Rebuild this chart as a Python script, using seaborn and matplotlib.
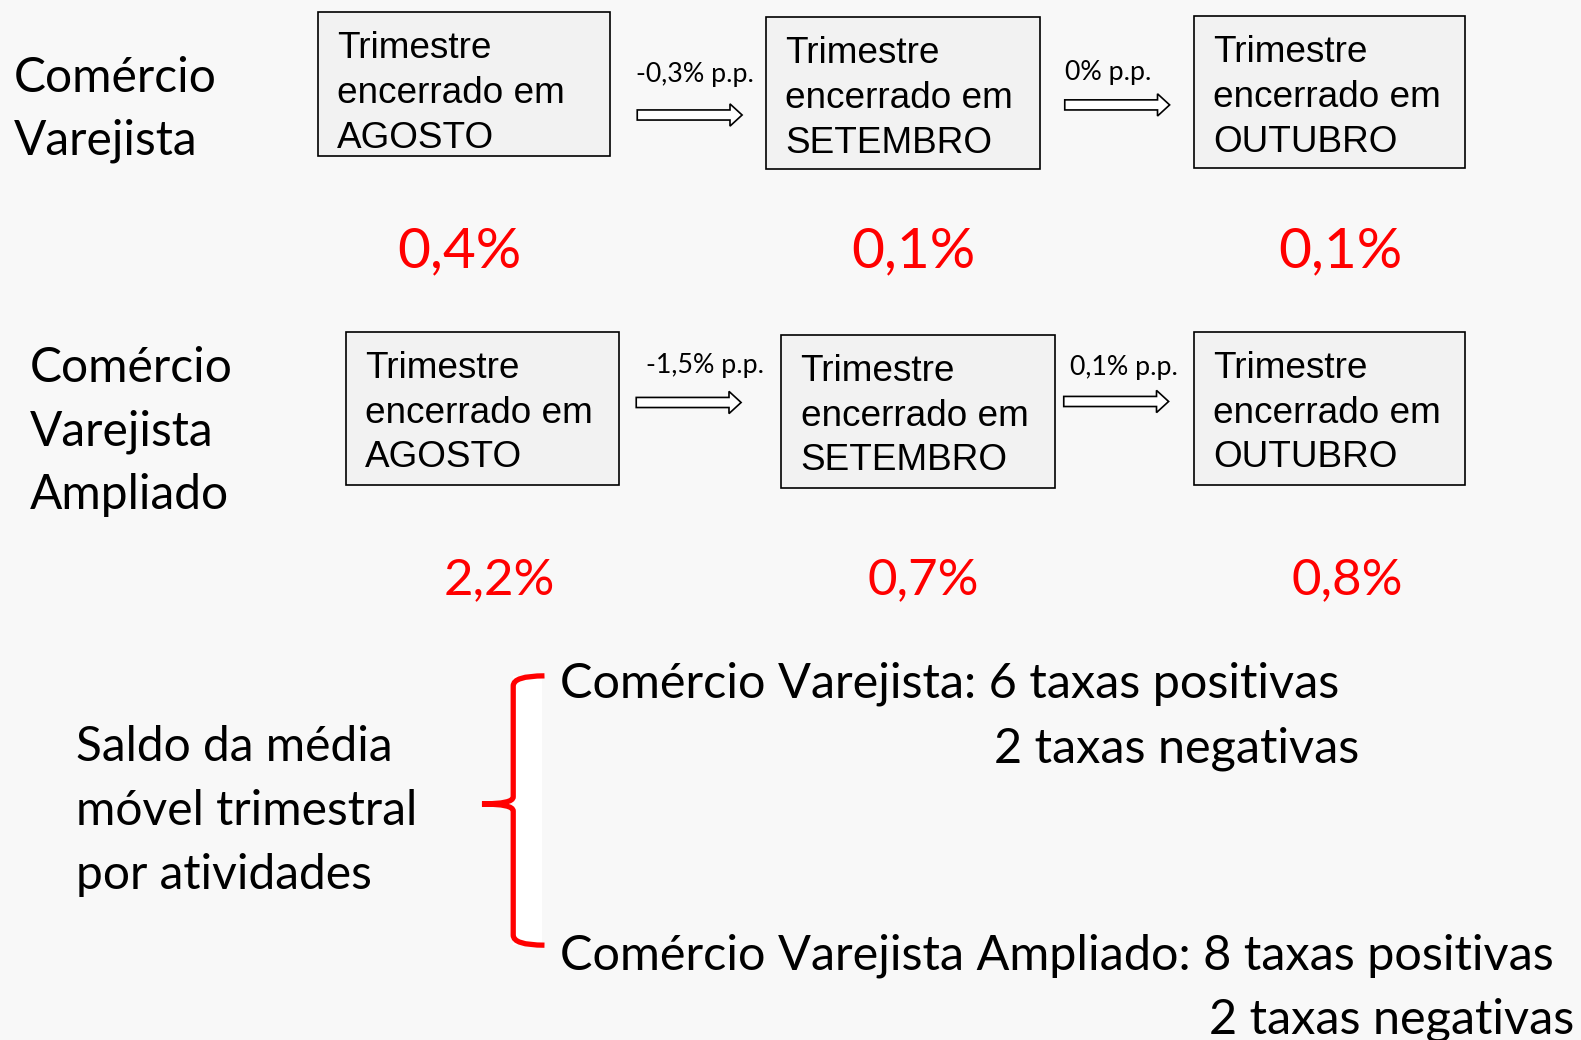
import matplotlib
matplotlib.use('Agg')
import matplotlib.pyplot as plt
import matplotlib.patches as mpatches
from matplotlib.path import Path
import seaborn as sns

# dados
meses = ['AGOSTO', 'SETEMBRO', 'OUTUBRO']
varejo = [0.4, 0.1, 0.1]
ampliado = [2.2, 0.7, 0.8]
varejo_pp = [-0.3, 0.0]
ampliado_pp = [-1.5, 0.1]
atividades = ['Comércio Varejista', 'Comércio Varejista Ampliado']
positivas = [6, 8]
negativas = [2, 2]

sns.set_theme(style='white', rc={'figure.facecolor': '#f8f8f8', 'axes.facecolor': '#f8f8f8',
                                 'text.color': 'black'})
plt.rcParams['font.family'] = ['Lato', 'DejaVu Sans']

BOX_FONT = 'Liberation Sans'
RED = '#ff0000'
DY = 3  # ajuste vertical do texto


def pct(v):
    return f'{v:.1f}'.replace('.', ',') + '%'


def pp(v):
    return f'{v:g}'.replace('.', ',') + '% p.p.'


fig = plt.figure(figsize=(15.81, 10.40), dpi=100)
ax = fig.add_axes([0, 0, 1, 1])
# coordenadas em pixels da imagem de referência
ax.set_xlim(0, 1568)
ax.set_ylim(1031, 0)
ax.axis('off')
renderer = fig.canvas.get_renderer()


def size_for(text, width, family):
    t = ax.text(0, 0, text, fontsize=10, family=family)
    w = t.get_window_extent(renderer).width
    t.remove()
    return 10 * width * 1.0083 / w


fs_box = size_for('encerrado em', 227, BOX_FONT)
fs_label = size_for('Comércio', 202, ['Lato'])
fs_red1 = size_for('0,4%', 123, ['Lato'])
fs_red2 = size_for('2,2%', 111, ['Lato'])
fs_pp = size_for('-0,3% p.p.', 117, ['Lato'])
fs_bottom = size_for('Comércio Varejista: 6 taxas positivas', 775, ['Lato'])

rows = [
    dict(label='Comércio\nVarejista', lx=14, ly=74,
         boxes=[(315, 12, 290, 143), (760, 17, 271, 151), (1184, 16, 269, 151)],
         vals=varejo, vx=[456, 906, 1329], vy=247, fs=fs_red1,
         pp=varejo_pp, arrows=[(632, 736, 114), (1056, 1160, 104)],
         ppxy=[(631, 72), (1056, 70)]),
    dict(label='Comércio\nVarejista\nAmpliado', lx=30, ly=362,
         boxes=[(343, 329, 271, 152), (775, 332, 271, 152), (1184, 329, 269, 152)],
         vals=ampliado, vx=[495, 916, 1336], vy=572, fs=fs_red2,
         pp=ampliado_pp, arrows=[(631, 735, 399), (1055, 1159, 398)],
         ppxy=[(641, 360), (1061, 362)]),
]

for r in rows:
    for i, line in enumerate(r['label'].split('\n')):
        ax.text(r['lx'], r['ly'] + DY + 63 * i, line, fontsize=fs_label, va='center', ha='left')
    for (x, y, w, h), mes in zip(r['boxes'], meses):
        ax.add_patch(mpatches.Rectangle((x, y), w, h, facecolor='#f2f2f2',
                                        edgecolor='black', linewidth=1.2))
        for i, line in enumerate(['Trimestre', 'encerrado em', mes]):
            ax.text(x + 19, y + 36 + 44.5 * i, line, family=BOX_FONT,
                    fontsize=fs_box, va='center', ha='left')
    for v, x in zip(r['vals'], r['vx']):
        ax.text(x, r['vy'] + DY, pct(v), color=RED, fontsize=r['fs'], ha='center', va='center')
    for v, (x0, x1, y), (tx, ty) in zip(r['pp'], r['arrows'], r['ppxy']):
        ax.add_patch(mpatches.FancyArrow(x0, y, x1 - x0, 0, width=10, head_width=22,
                                         head_length=12, length_includes_head=True,
                                         facecolor='white', edgecolor='black', linewidth=1.2))
        ax.text(tx, ty + 2, pp(v), fontsize=fs_pp, ha='left', va='center')

# saldo
for i, line in enumerate(['Saldo da média', 'móvel trimestral', 'por atividades']):
    ax.text(75, 738 + DY + 63 * i, line, fontsize=fs_label, va='center', ha='left')

ax.add_patch(mpatches.Rectangle((509, 670), 29, 267, facecolor='white', edgecolor='none'))
verts = [(540, 670), (509, 670), (509, 680),
         (509, 790), (509, 797), (478, 797),
         (509, 797), (509, 804),
         (509, 927), (509, 937), (540, 937)]
codes = [Path.MOVETO, Path.CURVE3, Path.CURVE3,
         Path.LINETO, Path.CURVE3, Path.CURVE3,
         Path.CURVE3, Path.CURVE3,
         Path.LINETO, Path.CURVE3, Path.CURVE3]
ax.add_patch(mpatches.PathPatch(Path(verts, codes), facecolor='none', edgecolor=RED,
                                linewidth=3.8, capstyle='butt'))

tops = [675, 944]
inv = ax.transData.inverted()
for nome, p, n, y in zip(atividades, positivas, negativas, tops):
    t = ax.text(555, y + DY, f'{nome}: {p} taxas positivas', fontsize=fs_bottom,
                va='center', ha='left')
    bb = t.get_window_extent(renderer)
    t2 = ax.text(0, 0, f'{p} taxas positivas', fontsize=fs_bottom)
    w2 = t2.get_window_extent(renderer).width
    t2.remove()
    x_start = inv.transform((bb.x1 - w2, 0))[0]
    ax.text(x_start + 6, y + DY + 64, f'{n} taxas negativas', fontsize=fs_bottom,
            va='center', ha='left')

fig.savefig('out.png', dpi=100, facecolor=fig.get_facecolor())
